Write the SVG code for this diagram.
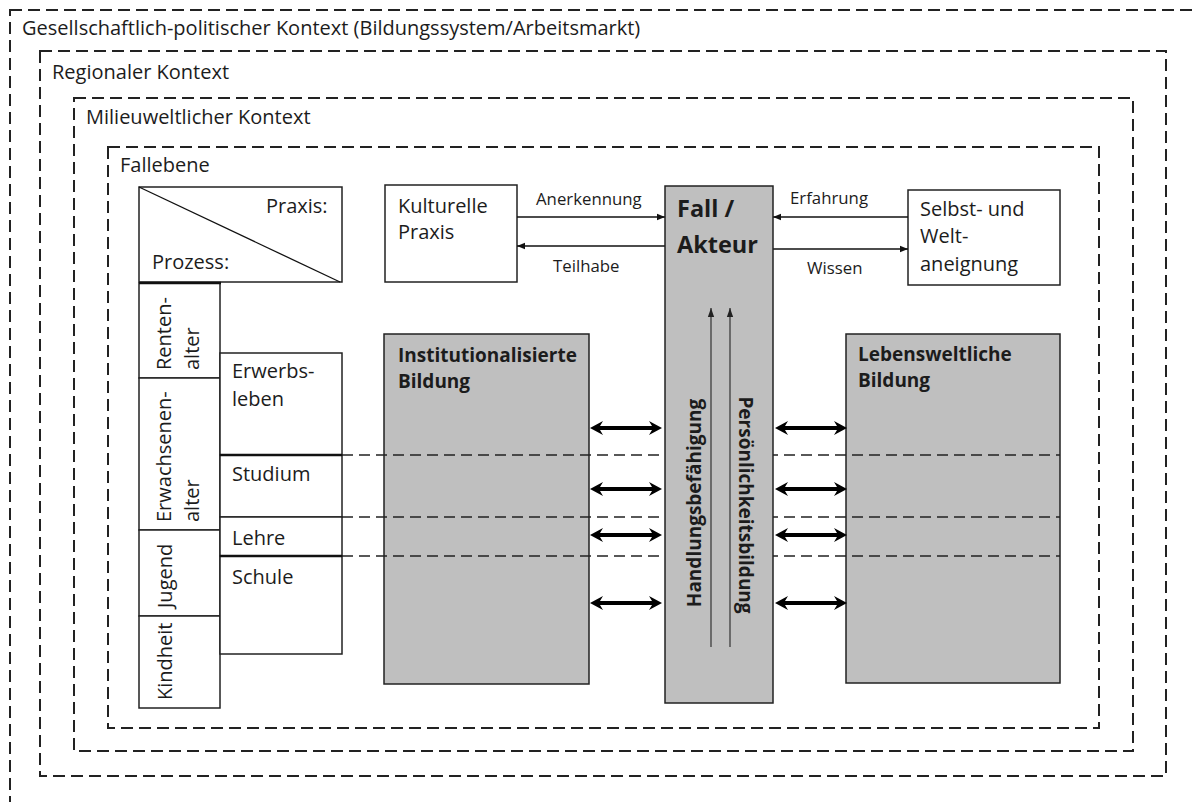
<svg xmlns="http://www.w3.org/2000/svg" width="1192" height="802" viewBox="0 0 1192 802">
<defs>
<style>
.t{font-family:"Open Sans","Noto Sans","DejaVu Sans",sans-serif;font-size:20px;fill:#1c1c1c}
.s{font-size:16.8px}
.b{font-weight:bold;font-size:19px}
.big{font-size:23.5px}
.ctx{fill:none;stroke:#222;stroke-width:2;stroke-dasharray:12 6}
.box{fill:#fff;stroke:#222;stroke-width:1.5}
.gray{fill:#bfbfbf;stroke:#222;stroke-width:1.5}
.sep{stroke:#222;stroke-width:1.3;stroke-dasharray:11 6;fill:none}
.thick{stroke:#111;stroke-width:2.5}
.ln{stroke:#111;stroke-width:1.3;fill:none}
.vl{stroke:#333;stroke-width:1.2;fill:none}
.da{fill:#000}
</style>
<marker id="ah" viewBox="0 0 10 10" refX="10" refY="5" markerWidth="8" markerHeight="8" markerUnits="userSpaceOnUse" orient="auto"><path d="M0,1 L10,5 L0,9 z" fill="#111"/></marker>
<marker id="ahv" viewBox="0 0 10 10" refX="10" refY="5" markerWidth="9" markerHeight="9" markerUnits="userSpaceOnUse" orient="auto"><path d="M0,1.5 L10,5 L0,8.5 z" fill="#222"/></marker>
<path id="dbl" d="M0,0 L13,-7 L10,-2 L62,-2 L59,-7 L72,0 L59,7 L62,2 L10,2 L13,7 z"/>
</defs>

<g id="context-gesellschaft">
<rect class="ctx" x="10" y="10" width="1200" height="810"/>
<text class="t" x="22" y="35">Gesellschaftlich-politischer Kontext (Bildungssystem/Arbeitsmarkt)</text>
</g>
<g id="context-regional">
<rect class="ctx" x="40" y="51" width="1126" height="725"/>
<text class="t" x="52" y="79">Regionaler Kontext</text>
</g>
<g id="context-milieu">
<rect class="ctx" x="74" y="98" width="1059" height="653"/>
<text class="t" x="86" y="124">Milieuweltlicher Kontext</text>
</g>
<g id="fallebene">
<rect class="ctx" x="108" y="147" width="991" height="581"/>
<text class="t" x="120" y="172">Fallebene</text>
</g>

<g id="praxis-prozess">
<rect class="box" x="139" y="187" width="203" height="95"/>
<line class="ln" x1="139" y1="187" x2="340" y2="282"/>
<text class="t" x="266" y="213">Praxis:</text>
<text class="t" x="152" y="269">Prozess:</text>
</g>

<g id="alter">
<rect class="box" x="139" y="283" width="81" height="95"/>
<rect class="box" x="139" y="378" width="81" height="152"/>
<rect class="box" x="139" y="530" width="81" height="86"/>
<rect class="box" x="139" y="616" width="81" height="92"/>
<line class="thick" x1="139" y1="283" x2="221" y2="283"/>
<text class="t" transform="translate(171,370) rotate(-90)">Renten-</text>
<text class="t" transform="translate(199,370) rotate(-90)">alter</text>
<text class="t" transform="translate(171,522) rotate(-90)">Erwachsenen-</text>
<text class="t" transform="translate(199,522) rotate(-90)">alter</text>
<text class="t" transform="translate(172,608) rotate(-90)">Jugend</text>
<text class="t" transform="translate(172,700) rotate(-90)">Kindheit</text>
</g>

<g id="phasen">
<rect class="box" x="220" y="353" width="122" height="102"/>
<rect class="box" x="220" y="455" width="122" height="62"/>
<rect class="box" x="220" y="517" width="122" height="39"/>
<rect class="box" x="220" y="556" width="122" height="98"/>
<line class="thick" x1="220" y1="455" x2="342" y2="455"/>
<line class="thick" x1="220" y1="556" x2="342" y2="556"/>
<text class="t" x="232" y="378">Erwerbs-</text>
<text class="t" x="232" y="406">leben</text>
<text class="t" x="232" y="481">Studium</text>
<text class="t" x="232" y="545">Lehre</text>
<text class="t" x="232" y="584">Schule</text>
</g>

<g id="kulturelle-praxis">
<rect class="box" x="385" y="185" width="132" height="97"/>
<text class="t" x="398" y="213">Kulturelle</text>
<text class="t" x="398" y="239">Praxis</text>
</g>

<g id="selbst-weltaneignung">
<rect class="box" x="908" y="190" width="152" height="95"/>
<text class="t" x="920" y="216">Selbst- und</text>
<text class="t" x="920" y="243">Welt-</text>
<text class="t" x="920" y="271">aneignung</text>
</g>

<g id="institutionalisierte-bildung">
<rect class="gray" x="384" y="334" width="205" height="350"/>
<text class="t b" x="398" y="362">Institutionalisierte</text>
<text class="t b" x="398" y="388">Bildung</text>
</g>

<g id="lebensweltliche-bildung">
<rect class="gray" x="846" y="334" width="214" height="349"/>
<text class="t b" x="858" y="361">Lebensweltliche</text>
<text class="t b" x="858" y="387">Bildung</text>
</g>

<g id="connectors">
<line class="sep" x1="342" y1="455" x2="1060" y2="455"/>
<line class="sep" x1="342" y1="517" x2="1060" y2="517"/>
<line class="sep" x1="342" y1="556" x2="1060" y2="556"/>
<line class="ln" x1="517" y1="217" x2="665" y2="217" marker-end="url(#ah)"/>
<line class="ln" x1="665" y1="246" x2="517" y2="246" marker-end="url(#ah)"/>
<line class="ln" x1="908" y1="217" x2="773" y2="217" marker-end="url(#ah)"/>
<line class="ln" x1="773" y1="249" x2="908" y2="249" marker-end="url(#ah)"/>
<text class="t s" x="536" y="205">Anerkennung</text>
<text class="t s" x="553" y="272">Teilhabe</text>
<text class="t s" x="790" y="204">Erfahrung</text>
<text class="t s" x="807" y="274">Wissen</text>
<use href="#dbl" class="da" x="590" y="428"/>
<use href="#dbl" class="da" x="590" y="489"/>
<use href="#dbl" class="da" x="590" y="535"/>
<use href="#dbl" class="da" x="590" y="603"/>
<use href="#dbl" class="da" x="775" y="428"/>
<use href="#dbl" class="da" x="775" y="489"/>
<use href="#dbl" class="da" x="775" y="535"/>
<use href="#dbl" class="da" x="775" y="603"/>
</g>

<g id="fall-akteur">
<rect class="gray" x="665" y="186" width="108" height="517"/>
<text class="t b big" x="677" y="217">Fall /</text>
<text class="t b big" x="677" y="253">Akteur</text>
<line class="vl" x1="711" y1="647" x2="711" y2="308" marker-end="url(#ahv)"/>
<line class="vl" x1="730" y1="647" x2="730" y2="308" marker-end="url(#ahv)"/>
<text class="t b" text-anchor="middle" transform="translate(701,503) rotate(-90)">Handlungsbefähigung</text>
<text class="t b" text-anchor="middle" transform="translate(739,505) rotate(90)">Persönlichkeitsbildung</text>
</g>
</svg>
